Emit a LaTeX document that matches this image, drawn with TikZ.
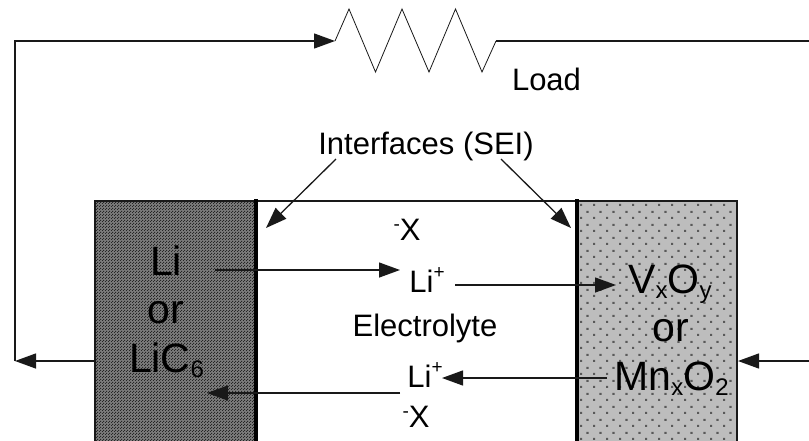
\documentclass[tikz,border=0pt]{standalone}
\usepackage{fontspec}
\setmainfont{Liberation Sans}
\usetikzlibrary{arrows.meta,patterns}
\pgfdeclarepatternformonly{darkgrain}{\pgfqpoint{0pt}{0pt}}{\pgfqpoint{3pt}{3pt}}{\pgfqpoint{3pt}{3pt}}{%
  \pgfpathrectangle{\pgfqpoint{0pt}{0pt}}{\pgfqpoint{1.3pt}{1.3pt}}%
  \pgfpathrectangle{\pgfqpoint{1.5pt}{1.5pt}}{\pgfqpoint{1.3pt}{1.3pt}}%
  \pgfusepath{fill}}
\pgfdeclarepatternformonly{lightgrain}{\pgfqpoint{0pt}{0pt}}{\pgfqpoint{12.9pt}{12.6pt}}{\pgfqpoint{12.9pt}{12.6pt}}{%
  \pgfpathrectangle{\pgfqpoint{0pt}{0pt}}{\pgfqpoint{2.1pt}{2.1pt}}%
  \pgfpathrectangle{\pgfqpoint{6.45pt}{6.3pt}}{\pgfqpoint{2.1pt}{2.1pt}}%
  \pgfusepath{fill}}
\definecolor{darkbase}{gray}{0.48}
\definecolor{lightbase}{gray}{0.74}
\definecolor{wire}{gray}{0.1}
\newcommand{\lowbig}[1]{\raisebox{-5.5pt}{\fontsize{24}{24}\selectfont #1}}
\newcommand{\highmid}[1]{\raisebox{14pt}{\fontsize{19}{19}\selectfont #1}}
\newcommand{\dashmid}{\raisebox{10pt}{\fontsize{19}{19}\selectfont -}}
\tikzset{
  wireline/.style={draw=wire,line width=1.3pt},
  arrowline/.style={wireline,-{Triangle[length=21pt,width=15pt]}},
  bigtext/.style={anchor=base,inner sep=0pt,font=\fontsize{41}{41}\selectfont},
  midtext/.style={anchor=base,inner sep=0pt,font=\fontsize{31}{31}\selectfont},
  layerbar/.style={draw=black,line width=4pt},
  boxedge/.style={draw=wire,line width=1.4pt}
}
\begin{document}
\begin{tikzpicture}[x=1pt,y=-1pt]
\useasboundingbox (0,0) rectangle (809,440);
% electrodes
\fill[darkbase] (95,201) rectangle (255,442);
\fill[pattern=darkgrain,pattern color=black!85] (95,201) rectangle (255,442);
\fill[lightbase] (577,201) rectangle (737,442);
\fill[pattern=lightgrain,pattern color=black!65] (577,201) rectangle (737,442);
\draw[boxedge] (95,442) -- (95,201) -- (577,201);
\draw[boxedge] (577,201) -- (737,201) -- (737,442);
\draw[layerbar] (255.5,199) -- (255.5,442);
\draw[layerbar] (576.5,199) -- (576.5,442);
% coordinates
\coordinate (wl) at (335,41);
\coordinate (corner) at (15,41);
\coordinate (lturn) at (15,361);
\coordinate (anodeout) at (95,361);
\coordinate (wr) at (496,41);
\coordinate (wrend) at (809,41);
\coordinate (rrend) at (809,361);
\coordinate (cathin) at (738,361);
\coordinate (p1) at (349,9); \coordinate (v1) at (375.5,72);
\coordinate (p2) at (402,9); \coordinate (v2) at (429,72);
\coordinate (p3) at (455.5,9); \coordinate (v3) at (482,72);
% labels
\node[midtext] (load) at (546.5,90) {Load};
\node[midtext] (iface) at (426,154) {Interfaces (SEI)};
\node[midtext] (elec) at (425,336) {Electrolyte};
\node[bigtext] (li) at (166,275) {Li};
\node[bigtext] (or1) at (166,323) {or};
\node[bigtext] (lic) at (166.5,372) {LiC\lowbig{6}};
\node[bigtext] (vo) at (670,293) {V\lowbig{x}O\lowbig{y}};
\node[bigtext] (or2) at (671,341) {or};
\node[bigtext] (mno) at (671.5,390) {Mn\lowbig{x}O\lowbig{2}};
\node[midtext] (lip1) at (427,292) {Li\highmid{+}};
\node[midtext] (lip2) at (425,387) {Li\highmid{+}};
\node[midtext] (x1) at (407,240) {\dashmid X};
\node[midtext] (x2) at (416,427) {\dashmid X};
% connectors
\coordinate (a1s) at (215,270); \coordinate (a1e) at (400,270);
\coordinate (a2s) at (455,285); \coordinate (a2e) at (616,285);
\coordinate (a3s) at (607,378); \coordinate (a3e) at (442,378);
\coordinate (a4s) at (400,393); \coordinate (a4e) at (207,393);
\coordinate (i1s) at (336,159); \coordinate (i1e) at (266,228);
\coordinate (i2s) at (501,159); \coordinate (i2e) at (571,228);
\draw[arrowline] (anodeout) -- (lturn);
\draw[arrowline] (lturn) -- (corner) -- (wl);
\draw[draw=wire,line width=0.8pt] (wl) -- (p1) -- (v1) -- (p2) -- (v2) -- (p3) -- (v3) -- (wr);
\draw[wireline] (wr) -- (wrend);
\draw[arrowline] (rrend) -- (cathin);
\draw[arrowline] (a1s) -- (a1e);
\draw[arrowline] (a2s) -- (a2e);
\draw[arrowline] (a3s) -- (a3e);
\draw[arrowline] (a4s) -- (a4e);
\draw[arrowline] (i1s) -- (i1e);
\draw[arrowline] (i2s) -- (i2e);
\end{tikzpicture}
\end{document}
